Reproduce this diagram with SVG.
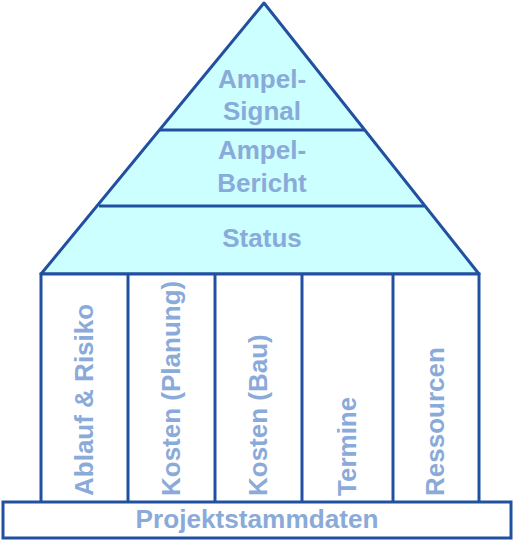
<svg xmlns="http://www.w3.org/2000/svg" width="514" height="542" viewBox="0 0 514 542">
<style>
.ln{stroke:#2250a0;stroke-width:3;fill:none;stroke-linejoin:round}
.roof{fill:#ccffff;stroke:#2250a0;stroke-width:3;stroke-linejoin:round}
.box{fill:#ffffff;stroke:#2250a0;stroke-width:3}
.t{font-family:"Liberation Sans",Arial,sans-serif;font-weight:bold;font-size:26px;fill:#8aaad9;text-anchor:middle}
.v{font-family:"Liberation Sans",Arial,sans-serif;font-weight:bold;font-size:26px;fill:#8aaad9;text-anchor:start}
</style>
<rect width="514" height="542" fill="#ffffff"/>
<g id="roof">
<polygon class="roof" points="264,3 41,274 479,274"/>
<line class="ln" x1="160" y1="130" x2="364" y2="130"/>
<line class="ln" x1="99" y1="206" x2="424" y2="206"/>
</g>
<g id="ampel-signal"><text class="t" x="262" y="88">Ampel-</text><text class="t" x="262" y="120">Signal</text></g>
<g id="ampel-bericht"><text class="t" x="262" y="159">Ampel-</text><text class="t" x="262" y="192">Bericht</text></g>
<g id="status"><text class="t" x="262" y="247">Status</text></g>
<g id="pillars">
<rect class="box" x="41" y="274" width="438" height="229"/>
<line class="ln" x1="128" y1="274" x2="128" y2="503"/>
<line class="ln" x1="215" y1="274" x2="215" y2="503"/>
<line class="ln" x1="302" y1="274" x2="302" y2="503"/>
<line class="ln" x1="393" y1="274" x2="393" y2="503"/>
</g>
<g id="ablauf"><text class="v" transform="translate(93,496) rotate(-90)">Ablauf &amp; Risiko</text></g>
<g id="kosten-planung"><text class="v" transform="translate(180,496) rotate(-90)">Kosten (Planung)</text></g>
<g id="kosten-bau"><text class="v" transform="translate(267,496) rotate(-90)">Kosten (Bau)</text></g>
<g id="termine"><text class="v" transform="translate(356,496) rotate(-90)">Termine</text></g>
<g id="ressourcen"><text class="v" transform="translate(444,496) rotate(-90)">Ressourcen</text></g>
<g id="projektstammdaten">
<rect class="box" x="3" y="502" width="508" height="36"/>
<text class="t" x="257" y="528" font-size="25" textLength="243" lengthAdjust="spacingAndGlyphs">Projektstammdaten</text>
</g>
</svg>
